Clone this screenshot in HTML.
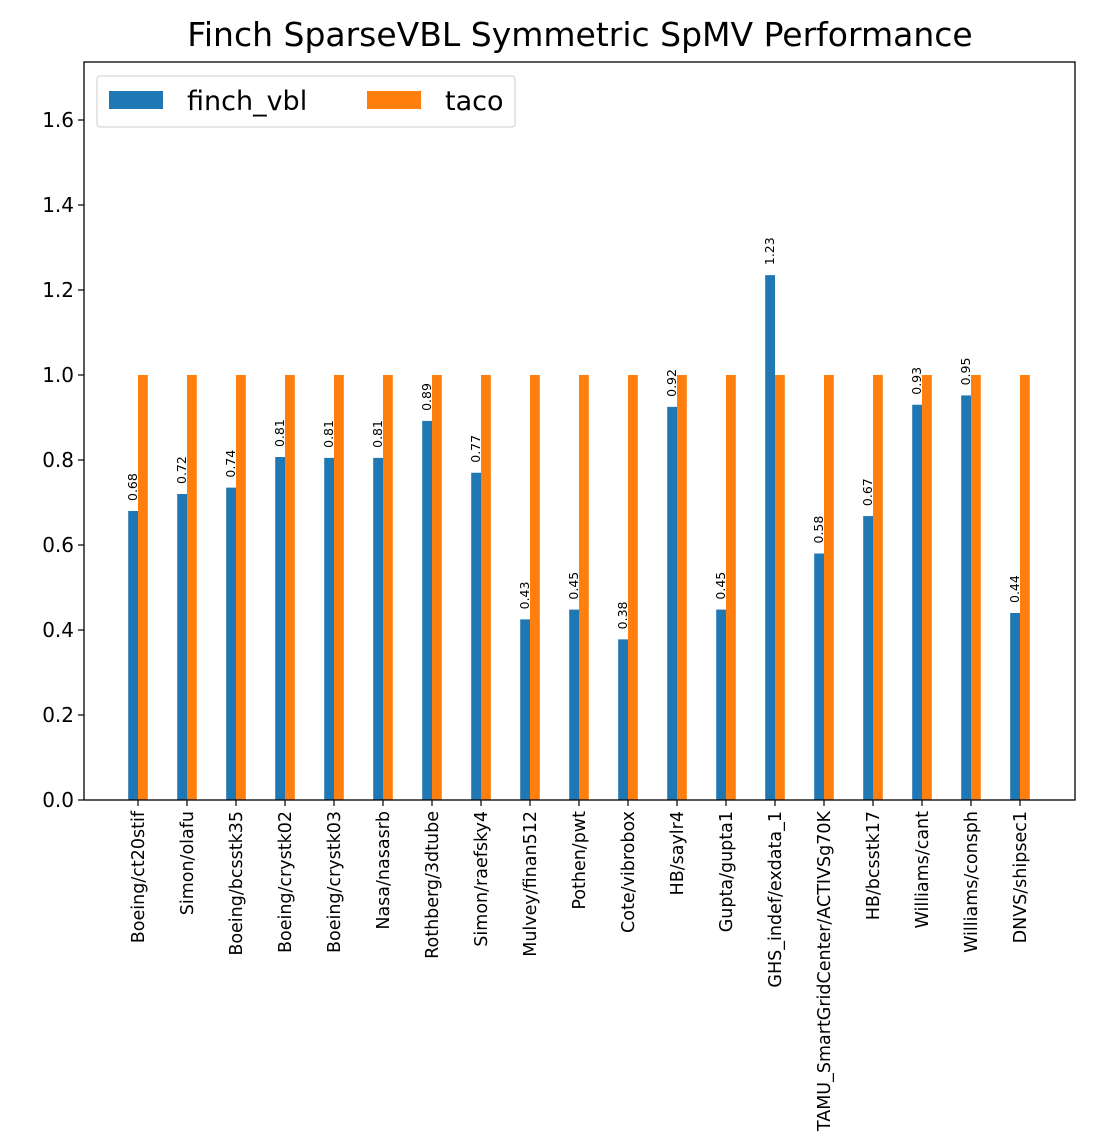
<!DOCTYPE html>
<html><head><meta charset="utf-8"><style>
body{margin:0;background:#fff;}
svg{display:block;font-family:"DejaVu Sans","Liberation Sans",sans-serif;}
</style></head><body>
<svg id="chart" width="1095" height="1146">
<text x="580" y="46" text-anchor="middle" font-size="33">Finch SparseVBL Symmetric SpMV Performance</text>
<g id="plot"></g>
<rect x="84" y="62" width="991" height="738" fill="none" stroke="#000" stroke-width="1.3"/>
<g>
<rect x="97" y="76" width="418" height="51" rx="3" fill="#fff" fill-opacity="0.8" stroke="#ccc"/>
<rect x="109" y="91" width="54" height="18" fill="#1f77b4"/>
<text x="187" y="110" font-size="27">finch_vbl</text>
<rect x="367" y="91" width="54" height="18" fill="#ff7f0e"/>
<text x="445" y="110" font-size="27">taco</text>
</g>
</svg>
<script>
const categories=["Boeing/ct20stif","Simon/olafu","Boeing/bcsstk35","Boeing/crystk02","Boeing/crystk03","Nasa/nasasrb","Rothberg/3dtube","Simon/raefsky4","Mulvey/finan512","Pothen/pwt","Cote/vibrobox","HB/saylr4","Gupta/gupta1","GHS_indef/exdata_1","TAMU_SmartGridCenter/ACTIVSg70K","HB/bcsstk17","Williams/cant","Williams/consph","DNVS/shipsec1"];
const finchVbl=[0.68,0.72,0.735,0.807,0.805,0.805,0.892,0.77,0.425,0.448,0.378,0.925,0.448,1.235,0.58,0.668,0.93,0.952,0.44];
const finchLabels=["0.68","0.72","0.74","0.81","0.81","0.81","0.89","0.77","0.43","0.45","0.38","0.92","0.45","1.23","0.58","0.67","0.93","0.95","0.44"];
const taco=[1,1,1,1,1,1,1,1,1,1,1,1,1,1,1,1,1,1,1];
const yTicks=[0,0.2,0.4,0.6,0.8,1.0,1.2,1.4,1.6];
const NS="http://www.w3.org/2000/svg";
const g=document.getElementById('plot');
const xS=i=>138+i*49;
const yS=v=>800-v*425;
const bw=9.8;
function mk(t,a){const e=document.createElementNS(NS,t);for(const k in a)e.setAttribute(k,a[k]);return e;}
yTicks.forEach(v=>{
  const y=yS(v);
  const l=mk('line',{x1:84,x2:78,y1:y,y2:y,stroke:'#000','stroke-width':1.2});
  
  
  g.appendChild(l);
  const t=mk('text',{x:74,y:y+7,'text-anchor':'end','font-size':'20'});
  t.textContent=v.toFixed(1);
  
  
  g.appendChild(t);
});
categories.forEach((c,i)=>{
  const x=xS(i);
  const b=mk('rect',{x:x-bw,y:yS(finchVbl[i]),width:bw,height:yS(0)-yS(finchVbl[i]),fill:'#1f77b4'});
  
  
  g.appendChild(b);
  const o=mk('rect',{x:x,y:yS(taco[i]),width:bw,height:yS(0)-yS(taco[i]),fill:'#ff7f0e'});
  
  
  g.appendChild(o);
  const vx=x-bw/2+4, vy=yS(finchVbl[i])-10;
  const vl=mk('text',{x:vx,y:vy,'font-size':'12.5',transform:`rotate(-90 ${vx} ${vy})`});
  vl.textContent=finchLabels[i];
  
  
  g.appendChild(vl);
  const tk=mk('line',{x1:x,x2:x,y1:800,y2:806,stroke:'#000','stroke-width':1.2});
  
  
  g.appendChild(tk);
  const lx=x+6, ly=811;
  const xl=mk('text',{x:lx,y:ly,'font-size':'17.5','text-anchor':'end',transform:`rotate(-90 ${lx} ${ly})`});
  xl.textContent=c;
  
  
  g.appendChild(xl);
});
</script>
</body></html>
